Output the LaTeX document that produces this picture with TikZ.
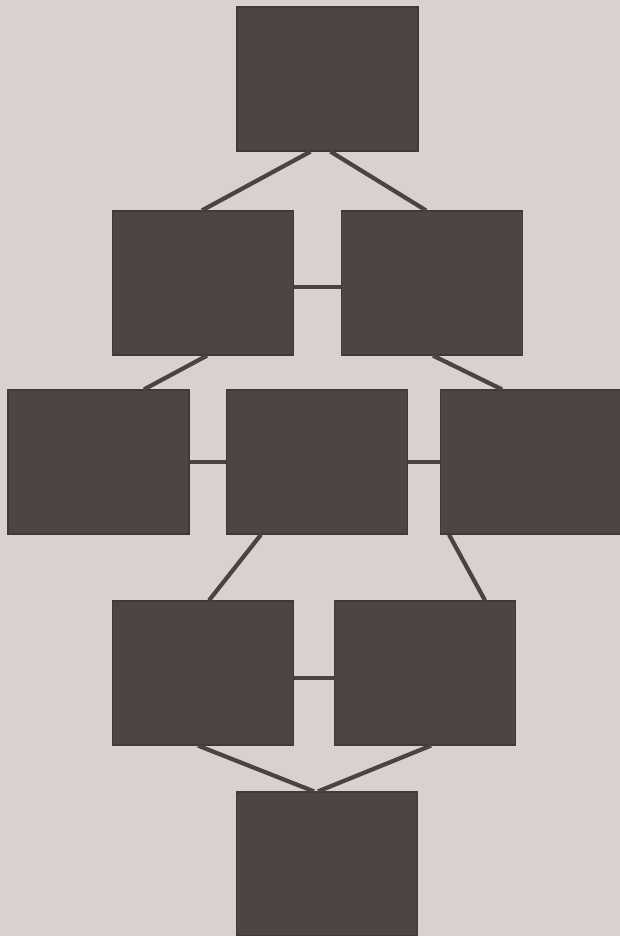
\documentclass[tikz,border=0pt]{standalone}
\usetikzlibrary{calc}
\definecolor{paper}{HTML}{D9D1D0}
\definecolor{boxfill}{HTML}{4C4543}
\definecolor{boxedge}{HTML}{3F3937}
\definecolor{linkcol}{HTML}{4A4341}
\tikzset{
  blockbox/.style={rectangle, fill=boxfill, draw=boxedge, line width=1.2pt, inner sep=0pt,
                   minimum width=181pt, minimum height=144pt},
  linkline/.style={draw=linkcol, line width=4.2pt}
}
\begin{document}
\begin{tikzpicture}[x=1pt,y=-1pt]
\fill[paper] (0,0) rectangle (620,936);
\useasboundingbox (0,0) rectangle (620,936);
% boxes
\node[blockbox] (top) at (327.5,79) {};
\node[blockbox] (l2) at (203,283) {};
\node[blockbox] (r2) at (432,283) {};
\node[blockbox] (l3) at (98.5,462) {};
\node[blockbox] (m3) at (317,462) {};
\node[blockbox] (r3) at (531,462) {};
\node[blockbox] (l4) at (203,673) {};
\node[blockbox] (r4) at (425,673) {};
\node[blockbox] (bot) at (327,864) {};
% connectors
\draw[linkline] ($(top.south)+(-17,0)$) -- ($(l2.north)+(-1,0)$);
\draw[linkline] ($(top.south)+(3,0)$) -- ($(r2.north)+(-6,0)$);
\draw[linkline] ($(l2.east)+(0,4)$) -- ($(r2.west)+(0,4)$);
\draw[linkline] ($(l2.south)+(4,0)$) -- ($(l3.north)+(45.5,0)$);
\draw[linkline] ($(r2.south)+(1,0)$) -- ($(r3.north)+(-29,0)$);
\draw[linkline] (l3.east) -- (m3.west);
\draw[linkline] (m3.east) -- (r3.west);
\draw[linkline] ($(m3.south)+(-56,0)$) -- ($(l4.north)+(6,0)$);
\draw[linkline] ($(m3.south)+(132,0)$) -- ($(r4.north)+(60,0)$);
\draw[linkline] ($(l4.east)+(0,5)$) -- ($(r4.west)+(0,5)$);
\draw[linkline] ($(l4.south)+(-5,0)$) -- ($(bot.north)+(-13,0)$);
\draw[linkline] ($(r4.south)+(6,0)$) -- ($(bot.north)+(-9,0)$);
\end{tikzpicture}
\end{document}
